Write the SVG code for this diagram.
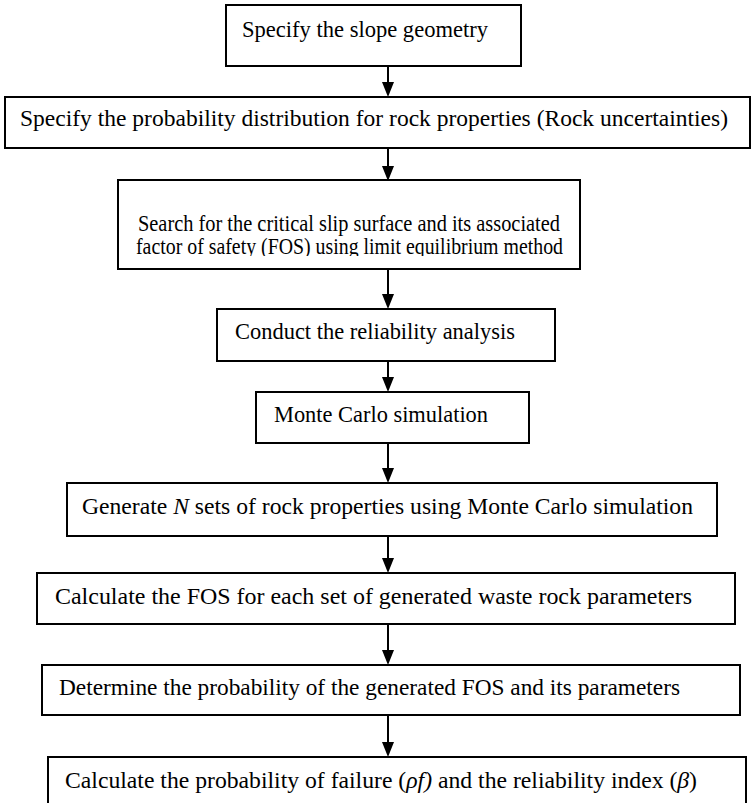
<svg xmlns="http://www.w3.org/2000/svg" width="752" height="803" viewBox="0 0 752 803">
<style>
.box{fill:#fff;stroke:#000;stroke-width:2}
.t{font-family:"Liberation Serif","Times New Roman",serif;font-size:24px;fill:#000}
.c{stroke:#000;stroke-width:2;fill:none}
</style>
<defs>
<clipPath id="clip3"><rect x="118" y="180" width="462" height="76"/></clipPath>
</defs>
<rect width="752" height="803" fill="#fff"/>
<g id="connectors">
<line class="c" x1="388" y1="66" x2="388" y2="82"/><path d="M382,82 L394,82 L388,97 Z"/>
<line class="c" x1="388" y1="148" x2="388" y2="166"/><path d="M382,166 L394,166 L388,181 Z"/>
<line class="c" x1="388" y1="269" x2="388" y2="294"/><path d="M382,294 L394,294 L388,309 Z"/>
<line class="c" x1="388" y1="361" x2="388" y2="377"/><path d="M382,377 L394,377 L388,392 Z"/>
<line class="c" x1="388" y1="443" x2="388" y2="468"/><path d="M382,468 L394,468 L388,483 Z"/>
<line class="c" x1="388" y1="536" x2="388" y2="558"/><path d="M382,558 L394,558 L388,573 Z"/>
<line class="c" x1="388" y1="624" x2="388" y2="650"/><path d="M382,650 L394,650 L388,665 Z"/>
<line class="c" x1="388" y1="715" x2="388" y2="742"/><path d="M382,742 L394,742 L388,757 Z"/>
</g>
<g id="n1"><rect class="box" x="226" y="5" width="295" height="61"/><text class="t" x="242" y="37" font-size="22" textLength="246" lengthAdjust="spacingAndGlyphs">Specify the slope geometry</text></g>
<g id="n2"><rect class="box" x="5" y="97" width="745" height="51"/><text class="t" x="20" y="126" textLength="708" lengthAdjust="spacingAndGlyphs">Specify the probability distribution for rock properties (Rock uncertainties)</text></g>
<g id="n3"><rect class="box" x="118" y="180" width="462" height="89"/>
<text class="t" x="138" y="231" textLength="422" lengthAdjust="spacingAndGlyphs">Search for the critical slip surface and its associated</text>
<text class="t" x="136" y="254" textLength="427" lengthAdjust="spacingAndGlyphs" clip-path="url(#clip3)">factor of safety (FOS) using limit equilibrium method</text></g>
<g id="n4"><rect class="box" x="217" y="309" width="338" height="52"/><text class="t" x="235" y="339" textLength="280" lengthAdjust="spacingAndGlyphs">Conduct the reliability analysis</text></g>
<g id="n5"><rect class="box" x="256" y="392" width="273" height="51"/><text class="t" x="274" y="422" font-size="23" textLength="214" lengthAdjust="spacingAndGlyphs">Monte Carlo simulation</text></g>
<g id="n6"><rect class="box" x="67" y="483" width="650" height="53"/><text class="t" x="82" y="514" textLength="611" lengthAdjust="spacingAndGlyphs">Generate <tspan font-style="italic">N</tspan> sets of rock properties using Monte Carlo simulation</text></g>
<g id="n7"><rect class="box" x="37" y="573" width="698" height="51"/><text class="t" x="55" y="604" textLength="637" lengthAdjust="spacingAndGlyphs">Calculate the FOS for each set of generated waste rock parameters</text></g>
<g id="n8"><rect class="box" x="42" y="665" width="698" height="50"/><text class="t" x="59" y="695" textLength="621" lengthAdjust="spacingAndGlyphs">Determine the probability of the generated FOS and its parameters</text></g>
<g id="n9"><rect class="box" x="48" y="757" width="698" height="50"/><text class="t" x="65" y="788" textLength="632" lengthAdjust="spacingAndGlyphs">Calculate the probability of failure (<tspan font-style="italic">ρf)</tspan> and the reliability index (<tspan font-style="italic">β</tspan>)</text></g>
</svg>
